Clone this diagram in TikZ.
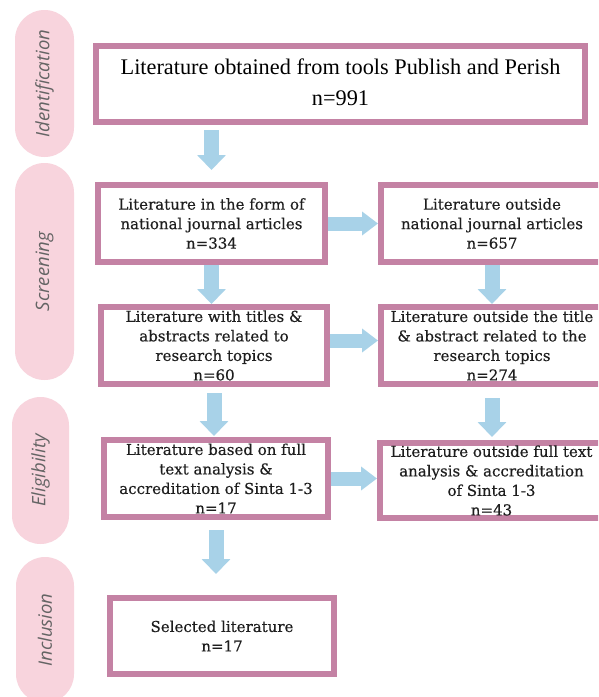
\documentclass[tikz,border=0pt]{standalone}
\usepackage{fontspec}
\setmainfont{DejaVu Serif}
\newfontfamily\boxfont{DejaVu Serif}[FakeBold=0.4]
\newfontfamily\topfont{Liberation Serif}
\newfontfamily\pillfont{Open Sans}
\usetikzlibrary{arrows.meta,shapes.misc,calc}
\definecolor{boxborder}{RGB}{196,130,164}
\definecolor{arrowblue}{RGB}{168,210,232}
\definecolor{pillpink}{RGB}{248,212,221}
\definecolor{pilltext}{RGB}{100,100,100}
\definecolor{boxtext}{RGB}{30,30,30}
\tikzset{
  stagebox/.style={draw=boxborder, line width=6pt, fill=white, outer sep=3pt,
    inner sep=0pt, align=center, text=boxtext,
    font=\boxfont\fontsize{15}{19.5}\selectfont},
  pill/.style={rounded rectangle, fill=pillpink, inner sep=0pt, rotate=90,
    text=pilltext, font=\pillfont\itshape\fontsize{18.5}{20}\selectfont},
  barrow/.style={draw=arrowblue, line width=15pt,
    -{Triangle[width=28pt,length=15pt,fill=arrowblue]}},
  harrow/.style={draw=arrowblue, line width=14pt,
    -{Triangle[width=23pt,length=16pt,fill=arrowblue]}}
}
\begin{document}
\begin{tikzpicture}[x=1pt,y=-1pt]
\useasboundingbox (0,0) rectangle (598,697);
\clip (0,0) rectangle (598,697);
\fill[white] (0,0) rectangle (598,697);
% stage pills
\node[pill, minimum width=147pt, minimum height=59pt] (p1) at (44.5,83.5) {Identification};
\node[pill, minimum width=217pt, minimum height=59pt] (p2) at (44.5,271.5) {Screening};
\node[pill, minimum width=147pt, minimum height=57pt] (p3) at (40.5,470.5) {Eligibility};
\node[pill, minimum width=146pt, minimum height=58pt] (p4) at (45,630) {Inclusion};
% boxes
\node[stagebox, minimum width=489pt, minimum height=76pt,
      font=\topfont\fontsize{22.3}{31}\selectfont, text=black] (T) at (340.5,84)
  {Literature obtained from tools Publish and Perish\\n=991\rule[-4pt]{0pt}{4pt}};
\node[stagebox, minimum width=227pt, minimum height=77pt] (A) at (211.5,223.5)
  {Literature in the form of\\national journal articles\\n=334};
\node[stagebox, minimum width=222pt, minimum height=77pt] (B) at (492,223.5)
  {Literature outside\\national journal articles\\n=657};
\node[stagebox, minimum width=226pt, minimum height=77pt] (C) at (214,345.5)
  {Literature with titles \&\\abstracts related to\\research topics\\n=60};
\node[stagebox, minimum width=222pt, minimum height=77pt] (D) at (492,345.5)
  {Literature outside the title\\\& abstract related to the\\research topics\\n=274};
\node[stagebox, minimum width=224pt, minimum height=77pt] (E) at (216,478.5)
  {Literature based on full\\text analysis \&\\accreditation of Sinta 1-3\\n=17};
\node[stagebox, minimum width=223pt, minimum height=75pt] (F) at (491.5,480.5)
  {Literature outside full text\\analysis \& accreditation\\of Sinta 1-3\\n=43};
\node[stagebox, minimum width=224pt, minimum height=76pt] (G) at (222,636)
  {Selected literature\\n=17};
% arrows
\draw[barrow, shorten <=5pt, shorten >=12pt] (T.south -| A.north) -- (A.north);
\draw[barrow] (A.south) -- (A.south |- C.north);
\draw[barrow] (B.south) -- (B.south |- D.north);
\draw[barrow, shorten <=6pt, shorten >=1pt] (C.south) -- (C.south |- E.north);
\draw[barrow, shorten <=11pt, shorten >=3pt] (D.south) -- (D.south |- F.north);
\draw[barrow, shorten <=10pt, shorten >=21pt] (E.south) -- (E.south |- G.north);
\draw[harrow] (A.east) -- (A.east -| B.west);
\draw[harrow] ([yshift=5pt]C.east) -- ([yshift=5pt]C.east -| D.west);
\draw[harrow] (E.east) -- (E.east -| F.west);
\end{tikzpicture}
\end{document}
